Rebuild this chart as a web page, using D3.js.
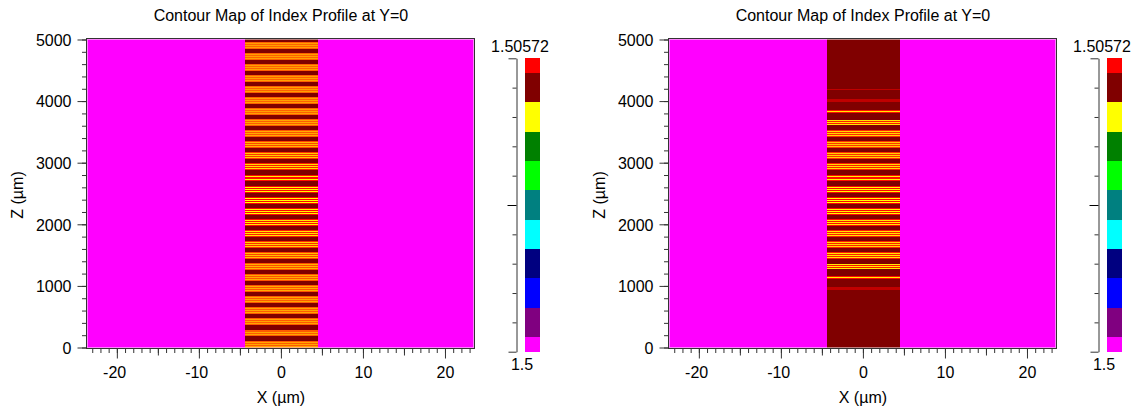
<!DOCTYPE html>
<html><head><meta charset="utf-8">
<script src="https://cdn.jsdelivr.net/npm/d3@7"></script>
<style>
body{margin:0;background:#fff}
svg{display:block}
text{font-family:"Liberation Sans",Arial,sans-serif;font-size:16px;fill:#000}
</style>
</head><body>
<svg id="chart" width="1137" height="407"></svg>
<script>
// ---------------- data ----------------
const titleText = "Contour Map of Index Profile at Y=0";
const xLabelText = "X (\u00b5m)";
const zLabelText = "Z (\u00b5m)";
const xDomain = [-23.7, 23.6];
const zDomain = [-16, 5016];
const xMajorTicks = [-20, -10, 0, 10, 20];
const xMediumTicks = [-15, -5, 5, 15];
const xMinorTicks = d3.range(-23, 24, 1);
const zMajorTicks = [0, 1000, 2000, 3000, 4000, 5000];
const zMinorTicks = d3.range(0, 5001, 200);
const coreX = [-4.4, 4.5];
const indexMin = 1.5, indexMax = 1.50572;
// contour level colours, lowest index -> highest index
const levelColors = ["#ff00ff", "#800080", "#0000ff", "#000080", "#00ffff", "#008080",
                     "#00ff00", "#008000", "#ffff00", "#800000", "#ff0000"];
// z (um) of the dark-red bands inside the core
const bandZ = [146, 326, 505, 685, 865, 1044, 1224, 1404, 1584, 1763, 1943, 2123, 2302, 2482,
               2662, 2841, 3021, 3201, 3381, 3560, 3740, 3920, 4099, 4279, 4459, 4638, 4818, 4998];
const bandHalfWidth = 34;
// fine rows between two dark bands: R = toward red level, Y = toward yellow level
const fineRowPattern = ["R", "Y", "R", "Y", "R", "Y", "R"];
// contrast of the fine rows in each gap below bandZ[i] (0 = orange blur, 1 = clear yellow/red)
const leftContrast = [0.3, 0.3, 0.3, 0.3, 0.3, 0.35, 0.35, 0.4, 0.5, 0.65, 0.8, 0.9, 0.95, 1,
                      0.95, 0.9, 0.75, 0.6, 0.45, 0.35, 0.3, 0.25, 0.25, 0.25, 0.25, 0.25, 0.25, 0.25];
const rightContrast = [0.9, 0.9, 0.9, 0.9, 0.9, 0.9, 0.9, 0.85, 0.8, 0.75, 0.8, 0.9, 0.95, 1,
                       0.95, 0.9, 0.75, 0.65, 0.6, 0.7, 0.8, 0.85, 0.9, 0.9, 0.9, 0.9, 0.9, 0.9];
// modulation strength of each gap (right chart is apodized)
const leftApod = bandZ.map(() => 1);
const rightApod = [0, 0, 0, 0, 0, 0.4, 0.45, 0.7, 1, 1, 1, 1, 1, 1,
                   1, 1, 1, 1, 1, 1, 0.7, 0.45, 0.4, 0.15, 0, 0, 0, 0];

// ---------------- layout ----------------
const svg = d3.select("#chart");
const chartOffsets = [0, 582];
const plot = {left: 86.5, right: 474.5, top: 38.5, bottom: 348.5};
const cbar = {axisX: 516.5, x: 525, w: 15, top: 58.3, bottom: 351.7};
const axisColor = "#333";

const orange = d3.interpolateRgb(levelColors[8], levelColors[10])(0.5);

function drawChart(dx, contrast, apod, id) {
  const g = svg.append("g").attr("transform", `translate(${dx},0)`);
  const x = d3.scaleLinear().domain(xDomain).range([plot.left, plot.right]);
  const z = d3.scaleLinear().domain(zDomain).range([plot.bottom, plot.top]);

  g.append("text").attr("x", x(0)).attr("y", 21).attr("text-anchor", "middle").text(titleText);

  g.append("clipPath").attr("id", "clip" + id).append("rect")
    .attr("x", plot.left).attr("y", plot.top)
    .attr("width", plot.right - plot.left).attr("height", plot.bottom - plot.top);
  const data = g.append("g").attr("clip-path", `url(#clip${id})`).attr("shape-rendering", "crispEdges");

  // cladding
  data.append("rect").attr("x", x(xDomain[0])).attr("y", z(zDomain[1]))
    .attr("width", x(xDomain[1]) - x(xDomain[0])).attr("height", z(zDomain[0]) - z(zDomain[1]))
    .attr("fill", levelColors[0]);
  // core base
  data.append("rect").attr("x", x(coreX[0])).attr("y", z(zDomain[1]))
    .attr("width", x(coreX[1]) - x(coreX[0])).attr("height", z(zDomain[0]) - z(zDomain[1]))
    .attr("fill", levelColors[9]);

  // fine rows
  const rows = [];
  const n = fineRowPattern.length;
  bandZ.forEach((bz, i) => {
    const lo = i === 0 ? zDomain[0] : bandZ[i - 1] + bandHalfWidth;
    const hi = bz - bandHalfWidth;
    const a = apod[i], c = contrast[i];
    const count = Math.round(a * n);
    const first = Math.floor((n - count) / 2);
    const h = (hi - lo) / n;
    fineRowPattern.forEach((t, j) => {
      if (j < first || j >= first + count) return;
      let col;
      if (a < 0.45) col = d3.interpolateRgb(levelColors[9], levelColors[10])(0.5);
      else col = t === "Y" ? d3.interpolateRgb(orange, levelColors[8])(c)
                           : d3.interpolateRgb(orange, levelColors[10])(c);
      rows.push({z0: lo + j * h, z1: lo + (j + 1) * h, color: col});
    });
  });
  data.selectAll("rect.row").data(rows).join("rect").attr("class", "row")
    .attr("x", x(coreX[0])).attr("width", x(coreX[1]) - x(coreX[0]))
    .attr("y", d => z(d.z1)).attr("height", d => z(d.z0) - z(d.z1))
    .attr("fill", d => d.color);

  // inner light edge + frame
  g.append("rect").attr("x", plot.left + 1).attr("y", plot.top + 1)
    .attr("width", plot.right - plot.left - 2).attr("height", plot.bottom - plot.top - 2)
    .attr("fill", "none").attr("stroke", "#fff").attr("stroke-opacity", 0.5);
  g.append("rect").attr("x", plot.left).attr("y", plot.top)
    .attr("width", plot.right - plot.left).attr("height", plot.bottom - plot.top)
    .attr("fill", "none").attr("stroke", axisColor);

  // x axis
  const xa = g.append("g").attr("transform", `translate(0,${plot.bottom})`);
  xa.append("g").call(d3.axisBottom(x).tickValues(xMinorTicks).tickSize(4.5).tickFormat(""));
  xa.append("g").call(d3.axisBottom(x).tickValues(xMediumTicks).tickSize(7).tickFormat(""));
  xa.append("g").call(d3.axisBottom(x).tickValues(xMajorTicks).tickSize(10).tickPadding(8)
      .tickFormat(d => d < 0 ? "-" + Math.abs(d) : String(d)));
  xa.selectAll(".domain").remove();
  xa.selectAll("line").attr("stroke", axisColor);
  xa.selectAll("text").attr("font-size", 16).attr("font-family", null)
    .attr("dx", d => d < 0 ? -2.7 : 0);

  // z axis
  const za = g.append("g").attr("transform", `translate(${plot.left},0)`);
  za.append("g").call(d3.axisLeft(z).tickValues(zMinorTicks).tickSize(4.5).tickFormat(""));
  za.append("g").call(d3.axisLeft(z).tickValues(zMajorTicks).tickSize(9).tickPadding(6).tickFormat(d3.format("d")));
  za.selectAll(".domain").remove();
  za.selectAll("line").attr("stroke", axisColor);
  za.selectAll("text").attr("font-size", 16).attr("font-family", null).attr("dy", "0.36em");

  g.append("text").attr("x", x(0)).attr("y", 403).attr("text-anchor", "middle").text(xLabelText);
  g.append("text").attr("transform", `translate(23.3,195) rotate(-90)`)
    .attr("text-anchor", "middle").text(zLabelText);

  // colour bar
  const levels = levelColors.map((c, i) => indexMin + i * (indexMax - indexMin) / (levelColors.length - 1));
  const step = levels[1] - levels[0];
  const cy = d3.scaleLinear().domain([indexMin, indexMax]).range([cbar.bottom, cbar.top]);
  g.append("g").attr("shape-rendering", "crispEdges").selectAll("rect").data(levels).join("rect")
    .attr("x", cbar.x).attr("width", cbar.w)
    .attr("y", d => cy(Math.min(d + step / 2, indexMax)))
    .attr("height", d => cy(Math.max(d - step / 2, indexMin)) - cy(Math.min(d + step / 2, indexMax)))
    .attr("fill", (d, i) => levelColors[i]);
  const ca = g.append("g").attr("transform", `translate(${cbar.axisX},0)`)
    .call(d3.axisLeft(cy).tickValues(levels).tickSize(4).tickSizeOuter(0).tickFormat(""));
  ca.select(".domain").attr("stroke", axisColor);
  ca.selectAll(".tick line").attr("stroke", axisColor)
    .attr("x2", (d, i) => (i === 0 || i === levels.length - 1) ? -8 : (i === 5 ? -9 : -4))
    .attr("stroke", (d, i) => i === 5 ? "#000" : axisColor);
  g.append("text").attr("x", 520).attr("y", 52).attr("text-anchor", "middle").text(String(indexMax));
  g.append("text").attr("x", 522).attr("y", 370).attr("text-anchor", "middle").text(String(indexMin));
}

drawChart(chartOffsets[0], leftContrast, leftApod, "L");
drawChart(chartOffsets[1], rightContrast, rightApod, "R");
</script>
</body></html>
